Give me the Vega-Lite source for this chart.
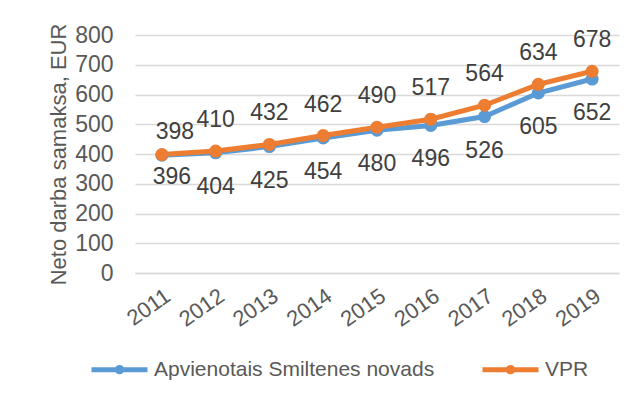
{
  "$schema": "https://vega.github.io/schema/vega-lite/v6.json",
  "width": 484,
  "height": 238,
  "autosize": "none",
  "padding": {"left": 135, "top": 35, "right": 21, "bottom": 130},
  "background": "white",
  "config": {"view": {"stroke": null}, "font": "Liberation Sans"},
  "data": {
    "values": [
      {"year": "2011", "series": "Apvienotais Smiltenes novads", "value": 396},
      {"year": "2012", "series": "Apvienotais Smiltenes novads", "value": 404},
      {"year": "2013", "series": "Apvienotais Smiltenes novads", "value": 425},
      {"year": "2014", "series": "Apvienotais Smiltenes novads", "value": 454},
      {"year": "2015", "series": "Apvienotais Smiltenes novads", "value": 480},
      {"year": "2016", "series": "Apvienotais Smiltenes novads", "value": 496},
      {"year": "2017", "series": "Apvienotais Smiltenes novads", "value": 526},
      {"year": "2018", "series": "Apvienotais Smiltenes novads", "value": 605},
      {"year": "2019", "series": "Apvienotais Smiltenes novads", "value": 652},
      {"year": "2011", "series": "VPR", "value": 398},
      {"year": "2012", "series": "VPR", "value": 410},
      {"year": "2013", "series": "VPR", "value": 432},
      {"year": "2014", "series": "VPR", "value": 462},
      {"year": "2015", "series": "VPR", "value": 490},
      {"year": "2016", "series": "VPR", "value": 517},
      {"year": "2017", "series": "VPR", "value": 564},
      {"year": "2018", "series": "VPR", "value": 634},
      {"year": "2019", "series": "VPR", "value": 678}
    ]
  },
  "encoding": {
    "x": {
      "field": "year",
      "type": "ordinal",
      "scale": {"type": "point", "padding": 0.5},
      "axis": {
        "title": null,
        "domain": true,
        "domainColor": "#d9d9d9",
        "domainWidth": 1.5,
        "ticks": false,
        "grid": false,
        "labelAngle": -35,
        "labelAlign": "right",
        "labelBaseline": "top",
        "labelPadding": 12,
        "labelFontSize": 22,
        "labelColor": "#595959"
      }
    },
    "y": {
      "field": "value",
      "type": "quantitative",
      "scale": {"domain": [0, 800]},
      "axis": {
        "values": [0, 100, 200, 300, 400, 500, 600, 700, 800],
        "domain": false,
        "ticks": false,
        "grid": true,
        "gridColor": "#d9d9d9",
        "gridWidth": 1.5,
        "labelFontSize": 23,
        "labelColor": "#595959",
        "labelPadding": 22,
        "title": "Neto darba samaksa, EUR",
        "titleFontSize": 22,
        "titleFontWeight": "normal",
        "titleColor": "#595959",
        "titlePadding": 4
      }
    }
  },
  "layer": [
    {
      "mark": {"type": "line", "strokeWidth": 5, "point": {"filled": true, "size": 170, "opacity": 1}},
      "encoding": {
        "color": {
          "field": "series",
          "type": "nominal",
          "scale": {"domain": ["Apvienotais Smiltenes novads", "VPR"], "range": ["#5B9BD5", "#ED7D31"]},
          "legend": {
            "orient": "none",
            "legendX": -46,
            "legendY": 304,
            "direction": "horizontal",
            "title": null,
            "padding": 0,
            "symbolType": "M-1,0H1M-0.08,0A0.08,0.08 0 1,0 0.08,0A0.08,0.08 0 1,0 -0.08,0",
            "symbolSize": 3136,
            "symbolStrokeWidth": 5,
            "labelFontSize": 21,
            "labelColor": "#595959",
            "labelOffset": 4,
            "labelLimit": 400,
            "columnPadding": 37
          }
        }
      }
    },
    {
      "transform": [{"filter": "datum.series === 'VPR' && datum.year !== '2011'"}],
      "mark": {"type": "text", "dy": -31, "fontSize": 23, "color": "#404040", "baseline": "middle"},
      "encoding": {"text": {"field": "value", "type": "quantitative"}}
    },
    {
      "transform": [{"filter": "datum.series !== 'VPR' && datum.year !== '2011'"}],
      "mark": {"type": "text", "dy": 34, "fontSize": 23, "color": "#404040", "baseline": "middle"},
      "encoding": {"text": {"field": "value", "type": "quantitative"}}
    },
    {
      "transform": [{"filter": "datum.series === 'VPR' && datum.year === '2011'"}],
      "mark": {"type": "text", "dx": 13, "dy": -23, "fontSize": 23, "color": "#404040", "baseline": "middle"},
      "encoding": {"text": {"field": "value", "type": "quantitative"}}
    },
    {
      "transform": [{"filter": "datum.series !== 'VPR' && datum.year === '2011'"}],
      "mark": {"type": "text", "dx": 10, "dy": 22, "fontSize": 23, "color": "#404040", "baseline": "middle"},
      "encoding": {"text": {"field": "value", "type": "quantitative"}}
    }
  ]
}
